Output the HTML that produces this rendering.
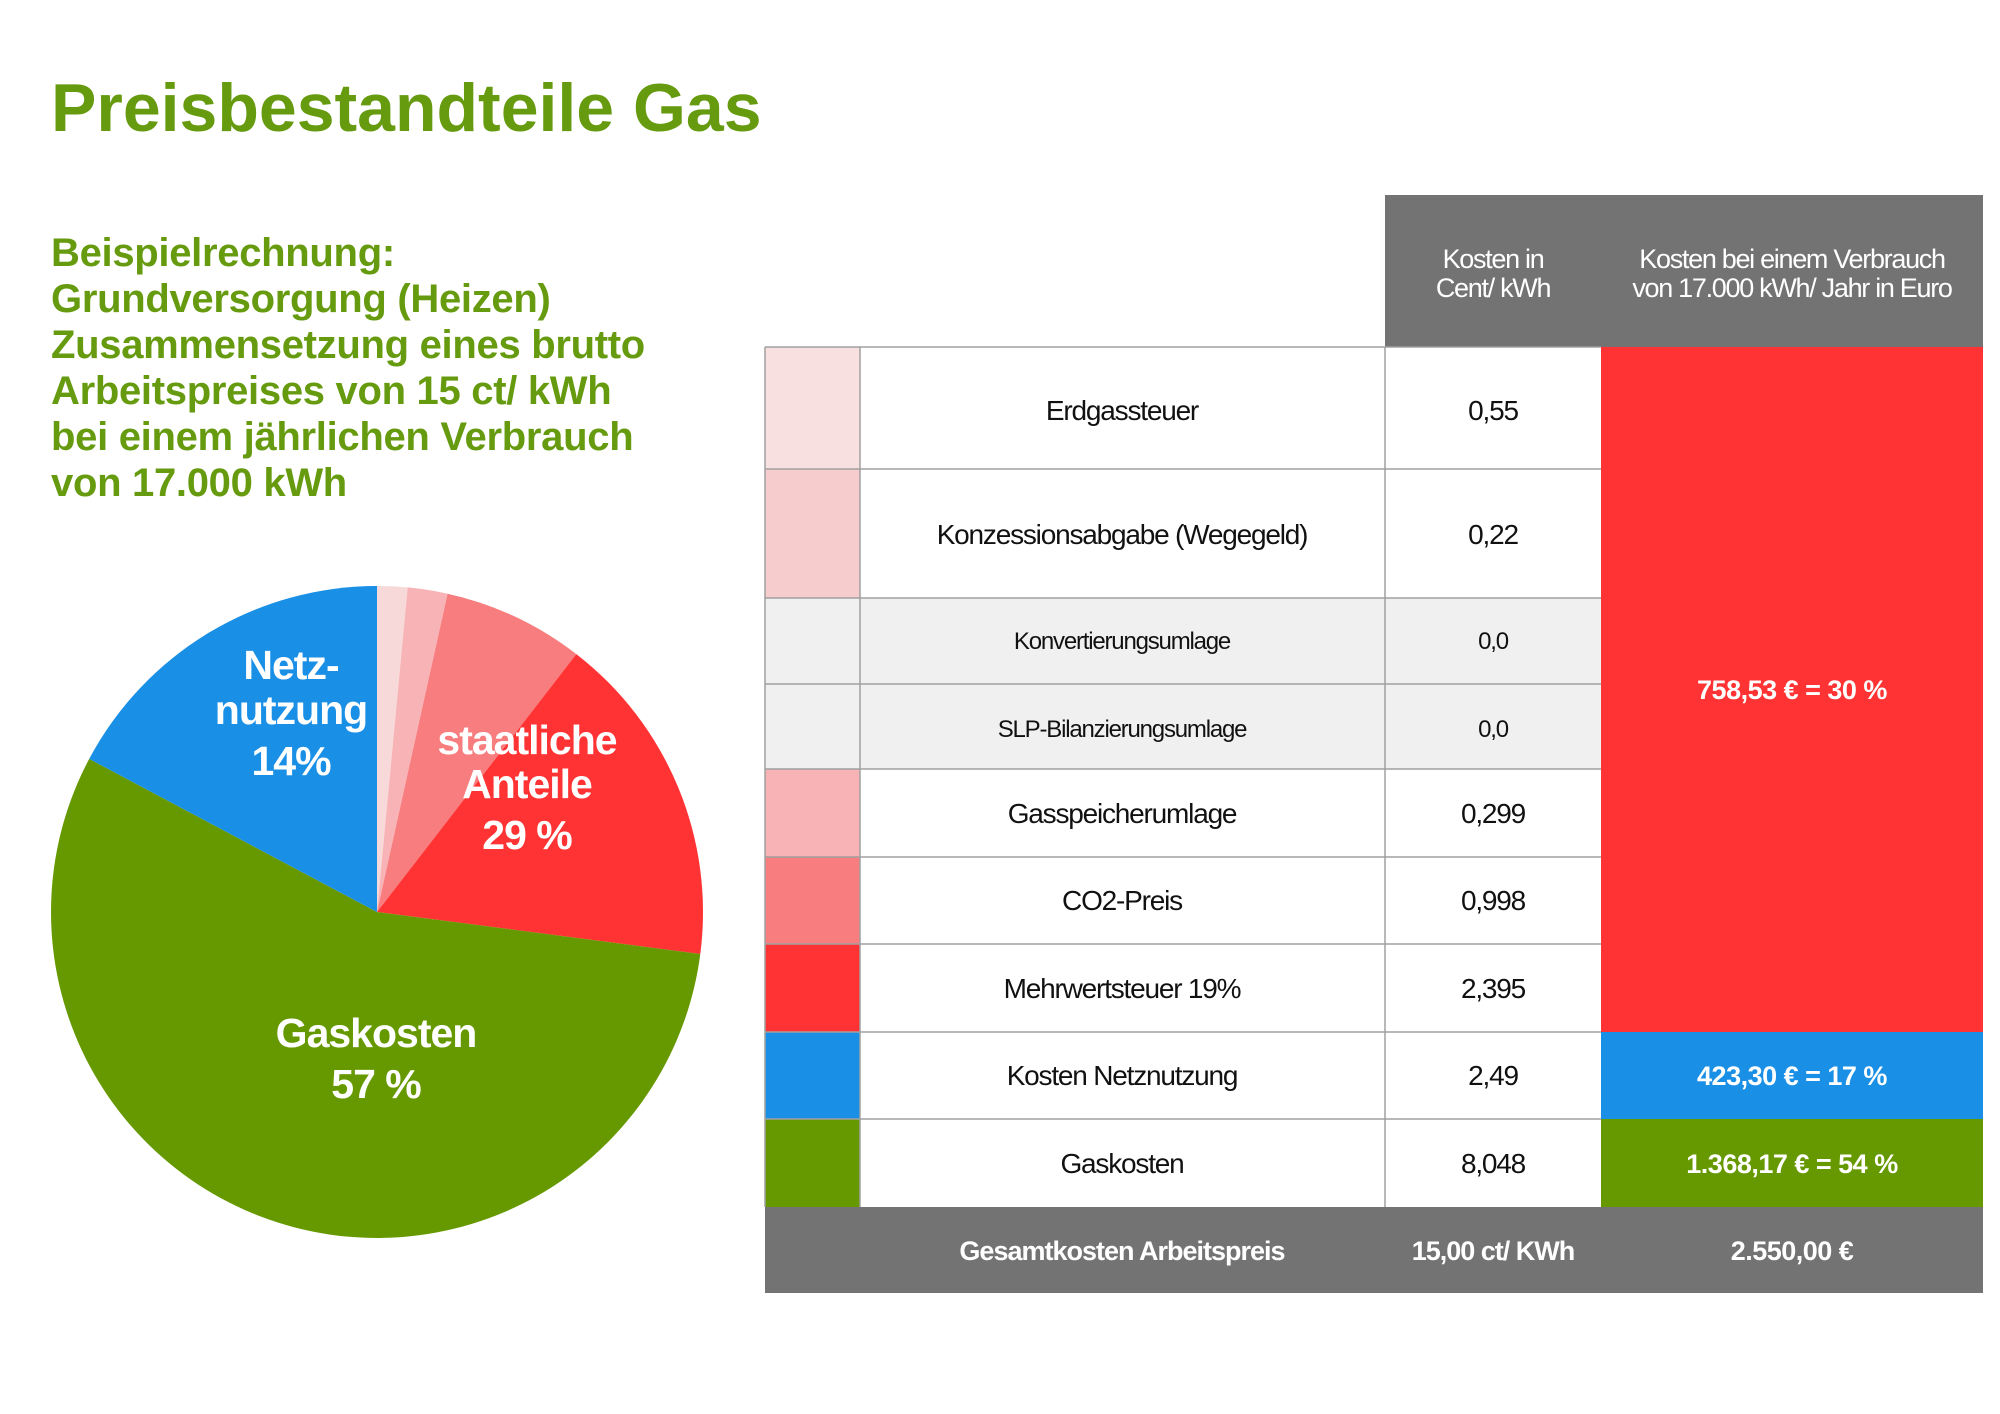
<!DOCTYPE html>
<html><head><meta charset="utf-8"><style>
html,body{margin:0;padding:0;background:#fff;}
svg{display:block;}
text{font-family:"Liberation Sans",sans-serif;}
</style></head><body>
<svg width="2000" height="1414" viewBox="0 0 2000 1414" xmlns="http://www.w3.org/2000/svg">
<rect width="2000" height="1414" fill="#fff"/>
<text x="51" y="131" font-size="68" font-weight="bold" fill="#669a0f" letter-spacing="0">Preisbestandteile Gas</text>
<g font-size="40" font-weight="bold" fill="#669a0f" letter-spacing="-0.3">
<text x="51" y="266">Beispielrechnung:</text>
<text x="51" y="312">Grundversorgung (Heizen)</text>
<text x="51" y="358">Zusammensetzung eines brutto</text>
<text x="51" y="404">Arbeitspreises von 15 ct/ kWh</text>
<text x="51" y="450">bei einem jährlichen Verbrauch</text>
<text x="51" y="496">von 17.000 kWh</text>
</g>
<!-- pie -->
<g>
<path d="M377,912 L377,586 A326,326 0 0 1 407.7,587.4 Z" fill="#f8d9d9"/>
<path d="M377,912 L407.7,587.4 A326,326 0 0 1 447.6,593.7 Z" fill="#f7b3b5"/>
<path d="M377,912 L447.6,593.7 A326,326 0 0 1 576.3,654.1 Z" fill="#f77d7f"/>
<path d="M377,912 L576.3,654.1 A326,326 0 0 1 700.3,954.0 Z" fill="#ff3333"/>
<path d="M377,912 L700.3,954.0 A326,326 0 1 1 89.2,758.9 Z" fill="#669900"/>
<path d="M377,912 L89.2,758.9 A326,326 0 0 1 377,586 Z" fill="#1a8fe6"/>
</g>
<g font-size="41" font-weight="bold" fill="#fff" text-anchor="middle" letter-spacing="-1">
<text x="291" y="679">Netz-</text>
<text x="291" y="724">nutzung</text>
<text x="291" y="775">14%</text>
<text x="527" y="754">staatliche</text>
<text x="527" y="798">Anteile</text>
<text x="527" y="849">29 %</text>
<text x="376" y="1047">Gaskosten</text>
<text x="376" y="1098">57 %</text>
</g>
<!-- table header -->
<rect x="1385" y="195" width="598" height="152" fill="#737373"/>
<g font-size="27" fill="#fff" text-anchor="middle" letter-spacing="-1.3">
<text x="1493" y="268">Kosten in</text>
<text x="1493" y="297">Cent/ kWh</text>
<text x="1792" y="268">Kosten bei einem Verbrauch</text>
<text x="1792" y="297">von 17.000 kWh/ Jahr in Euro</text>
</g>
<!-- rows background -->
<rect x="765" y="598" width="836" height="171" fill="#f0f0f0"/>
<rect x="765" y="347" width="95" height="122" fill="#f8e0e0"/>
<rect x="765" y="469" width="95" height="129" fill="#f7cccc"/>
<rect x="765" y="769" width="95" height="88" fill="#f7b3b5"/>
<rect x="765" y="857" width="95" height="87" fill="#f77d7f"/>
<rect x="765" y="944" width="95" height="88" fill="#ff3333"/>
<rect x="765" y="1032" width="95" height="87" fill="#1a8fe6"/>
<rect x="765" y="1119" width="95" height="88" fill="#669900"/>
<rect x="1601" y="347" width="382" height="685" fill="#ff3333"/>
<rect x="1601" y="1032" width="382" height="87" fill="#1a8fe6"/>
<rect x="1601" y="1119" width="382" height="88" fill="#669900"/>
<rect x="765" y="1207" width="1218" height="86" fill="#737373"/>
<!-- grid lines -->
<g stroke="#a0a0a0" stroke-width="1.5">
<line x1="765" y1="347" x2="1601" y2="347"/>
<line x1="765" y1="469" x2="1601" y2="469"/>
<line x1="765" y1="598" x2="1601" y2="598"/>
<line x1="765" y1="684" x2="1601" y2="684"/>
<line x1="765" y1="769" x2="1601" y2="769"/>
<line x1="765" y1="857" x2="1601" y2="857"/>
<line x1="765" y1="944" x2="1601" y2="944"/>
<line x1="765" y1="1032" x2="1601" y2="1032"/>
<line x1="765" y1="1119" x2="1601" y2="1119"/>
<line x1="765" y1="347" x2="765" y2="1207"/>
<line x1="860" y1="347" x2="860" y2="1207"/>
<line x1="1385" y1="347" x2="1385" y2="1207"/>
</g>
<g font-size="28" fill="#111" text-anchor="middle" letter-spacing="-1.2">
<text x="1122" y="420">Erdgassteuer</text>
<text x="1122" y="544">Konzessionsabgabe (Wegegeld)</text>
<text x="1122" y="737" font-size="24">SLP-Bilanzierungsumlage</text>
<text x="1122" y="823">Gasspeicherumlage</text>
<text x="1122" y="910">CO2-Preis</text>
<text x="1122" y="998">Mehrwertsteuer 19%</text>
<text x="1122" y="1085">Kosten Netznutzung</text>
<text x="1122" y="1173">Gaskosten</text>
<text x="1122" y="649" font-size="24">Konvertierungsumlage</text>
<text x="1493" y="420">0,55</text>
<text x="1493" y="544">0,22</text>
<text x="1493" y="649" font-size="24">0,0</text>
<text x="1493" y="737" font-size="24">0,0</text>
<text x="1493" y="823">0,299</text>
<text x="1493" y="910">0,998</text>
<text x="1493" y="998">2,395</text>
<text x="1493" y="1085">2,49</text>
<text x="1493" y="1173">8,048</text>
</g>
<g font-size="27" font-weight="bold" fill="#fff" text-anchor="middle" letter-spacing="-0.5">
<text x="1792" y="699">758,53 € = 30 %</text>
<text x="1792" y="1085">423,30 € = 17 %</text>
<text x="1792" y="1173">1.368,17 € = 54 %</text>
<text x="1122" y="1260" letter-spacing="-1">Gesamtkosten Arbeitspreis</text>
<text x="1493" y="1260" letter-spacing="-1">15,00 ct/ KWh</text>
<text x="1792" y="1260">2.550,00 €</text>
</g>
</svg>
</body></html>
